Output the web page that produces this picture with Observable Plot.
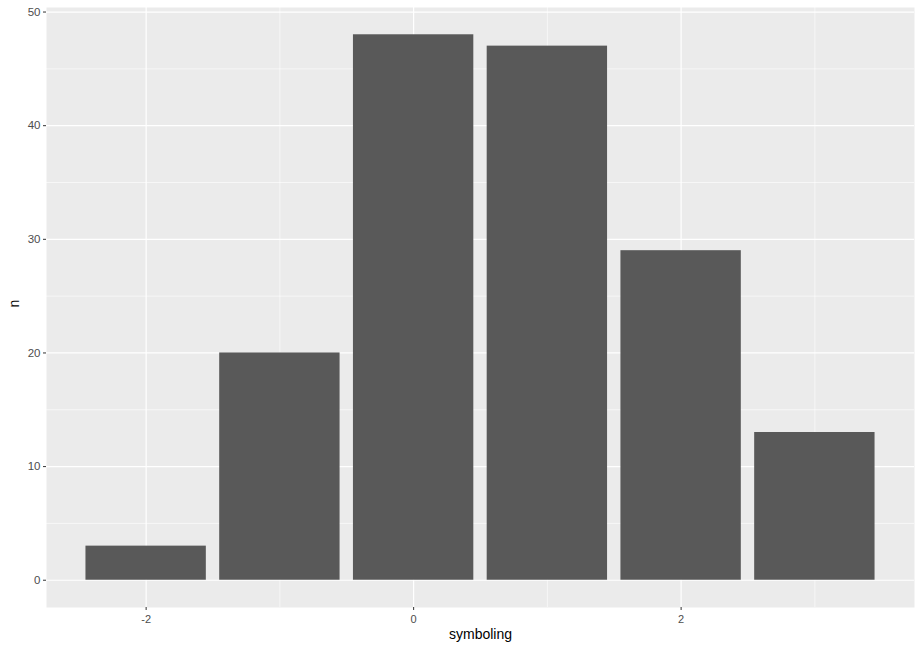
<!DOCTYPE html>
<html>
<head>
<meta charset="utf-8">
<script src="https://cdn.jsdelivr.net/npm/d3@7"></script>
<script src="https://cdn.jsdelivr.net/npm/@observablehq/plot@0.6"></script>
<style>
  body { margin: 0; background: #fff; }
  #chart svg { display: block; }
</style>
</head>
<body>
<div id="chart"></div>
<script>
const symboling = [-2, -1, 0, 1, 2, 3];
const counts = [3, 20, 48, 47, 29, 13];
const xMajor = [-2, 0, 2];
const xMinor = [-1, 1, 3];
const yMajor = [0, 10, 20, 30, 40, 50];
const yMinor = [5, 15, 25, 35, 45];

const data = symboling.map((s, i) => ({symboling: s, n: counts[i]}));

const chart = Plot.plot({
  width: 922,
  height: 652,
  marginLeft: 46,
  marginRight: 8,
  marginTop: 7,
  marginBottom: 45,
  style: {fontFamily: "'Liberation Sans', Arial, sans-serif", background: "#fff"},
  x: {type: "linear", domain: [-2.745, 3.745], label: null},
  y: {domain: [-2.4, 50.4], label: null},
  marks: [
    Plot.frame({fill: "#EBEBEB", stroke: null}),
    Plot.ruleX(xMinor, {stroke: "#fff", strokeWidth: 0.6}),
    Plot.ruleY(yMinor, {stroke: "#fff", strokeWidth: 0.6}),
    Plot.ruleX(xMajor, {stroke: "#fff", strokeWidth: 1.2}),
    Plot.ruleY(yMajor, {stroke: "#fff", strokeWidth: 1.2}),
    Plot.rectY(data, {x1: d => d.symboling - 0.45, x2: d => d.symboling + 0.45, y1: 0, y2: "n", fill: "#595959"}),
    Plot.axisX(xMajor, {tickSize: 3, tickPadding: 5, fontSize: 11, stroke: "#333", color: "#4D4D4D", label: null, tickFormat: d => String(d)}),
    Plot.axisY(yMajor, {tickSize: 3, tickPadding: 3, fontSize: 11.5, stroke: "#333", color: "#4D4D4D", label: null, tickFormat: d => String(d)}),
    Plot.text(["symboling"], {frameAnchor: "bottom", dy: 31, fontSize: 14, fill: "#000"}),
    Plot.text(["n"], {frameAnchor: "left", dx: -32, rotate: -90, fontSize: 14, fill: "#000"})
  ]
});
document.getElementById("chart").appendChild(chart);
</script>
</body>
</html>
